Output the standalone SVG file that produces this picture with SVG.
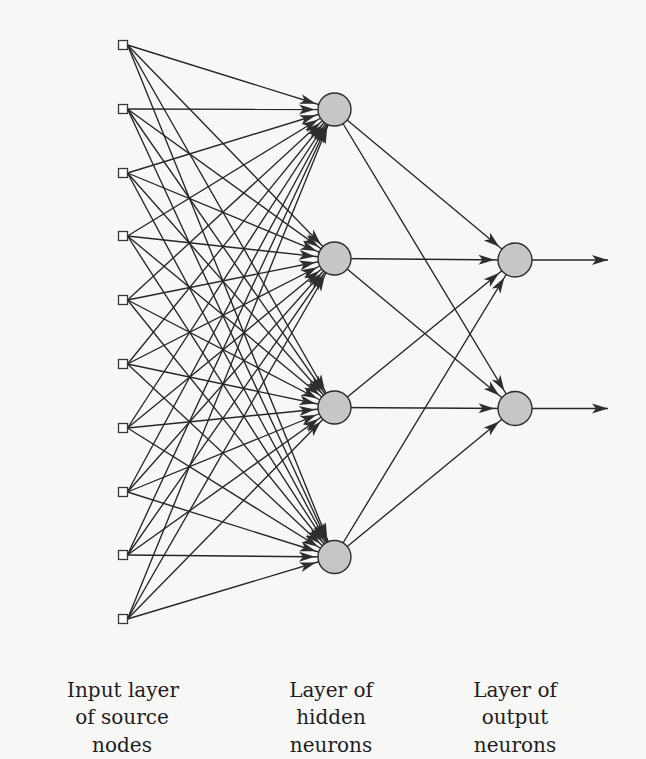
<svg xmlns="http://www.w3.org/2000/svg" width="646" height="759" viewBox="0 0 646 759">
<style>
.c{stroke:#262626;stroke-width:1.35;fill:none}
.ih{marker-end:url(#ah)}
.ho{marker-end:url(#ao)}
.out{marker-end:url(#ae)}
.in{fill:#fbfbfb;stroke:#3a3a3a;stroke-width:1.3}
.neu{fill:#c6c6c6;stroke:#2e2e2e;stroke-width:1.4}
</style>
<defs>
<marker id="ah" markerUnits="userSpaceOnUse" markerWidth="60" markerHeight="12" refX="35.5" refY="5" orient="auto" overflow="visible"><path d="M0,0 L16,5 L0,10 L4,5 Z" fill="#2e2e2e"/></marker>
<marker id="ao" markerUnits="userSpaceOnUse" markerWidth="60" markerHeight="12" refX="36.5" refY="5" orient="auto" overflow="visible"><path d="M0,0 L16,5 L0,10 L4,5 Z" fill="#2e2e2e"/></marker>
<marker id="ae" markerUnits="userSpaceOnUse" markerWidth="20" markerHeight="12" refX="16" refY="5" orient="auto" overflow="visible"><path d="M0,0 L16,5 L0,10 L4,5 Z" fill="#2e2e2e"/></marker>
</defs>
<rect width="646" height="759" fill="#f7f7f6"/>
<g id="connectors">
<line class="c ih" x1="127.5" y1="45" x2="334.5" y2="109.5"/>
<line class="c ih" x1="127.5" y1="45" x2="334.5" y2="258.5"/>
<line class="c ih" x1="127.5" y1="45" x2="334.5" y2="407.5"/>
<line class="c ih" x1="127.5" y1="45" x2="334.5" y2="557"/>
<line class="c ih" x1="127.5" y1="109" x2="334.5" y2="109.5"/>
<line class="c ih" x1="127.5" y1="109" x2="334.5" y2="258.5"/>
<line class="c ih" x1="127.5" y1="109" x2="334.5" y2="407.5"/>
<line class="c ih" x1="127.5" y1="109" x2="334.5" y2="557"/>
<line class="c ih" x1="127.5" y1="173" x2="334.5" y2="109.5"/>
<line class="c ih" x1="127.5" y1="173" x2="334.5" y2="258.5"/>
<line class="c ih" x1="127.5" y1="173" x2="334.5" y2="407.5"/>
<line class="c ih" x1="127.5" y1="173" x2="334.5" y2="557"/>
<line class="c ih" x1="127.5" y1="236" x2="334.5" y2="109.5"/>
<line class="c ih" x1="127.5" y1="236" x2="334.5" y2="258.5"/>
<line class="c ih" x1="127.5" y1="236" x2="334.5" y2="407.5"/>
<line class="c ih" x1="127.5" y1="236" x2="334.5" y2="557"/>
<line class="c ih" x1="127.5" y1="300" x2="334.5" y2="109.5"/>
<line class="c ih" x1="127.5" y1="300" x2="334.5" y2="258.5"/>
<line class="c ih" x1="127.5" y1="300" x2="334.5" y2="407.5"/>
<line class="c ih" x1="127.5" y1="300" x2="334.5" y2="557"/>
<line class="c ih" x1="127.5" y1="364" x2="334.5" y2="109.5"/>
<line class="c ih" x1="127.5" y1="364" x2="334.5" y2="258.5"/>
<line class="c ih" x1="127.5" y1="364" x2="334.5" y2="407.5"/>
<line class="c ih" x1="127.5" y1="364" x2="334.5" y2="557"/>
<line class="c ih" x1="127.5" y1="428" x2="334.5" y2="109.5"/>
<line class="c ih" x1="127.5" y1="428" x2="334.5" y2="258.5"/>
<line class="c ih" x1="127.5" y1="428" x2="334.5" y2="407.5"/>
<line class="c ih" x1="127.5" y1="428" x2="334.5" y2="557"/>
<line class="c ih" x1="127.5" y1="492" x2="334.5" y2="109.5"/>
<line class="c ih" x1="127.5" y1="492" x2="334.5" y2="258.5"/>
<line class="c ih" x1="127.5" y1="492" x2="334.5" y2="407.5"/>
<line class="c ih" x1="127.5" y1="492" x2="334.5" y2="557"/>
<line class="c ih" x1="127.5" y1="555" x2="334.5" y2="109.5"/>
<line class="c ih" x1="127.5" y1="555" x2="334.5" y2="258.5"/>
<line class="c ih" x1="127.5" y1="555" x2="334.5" y2="407.5"/>
<line class="c ih" x1="127.5" y1="555" x2="334.5" y2="557"/>
<line class="c ih" x1="127.5" y1="619" x2="334.5" y2="109.5"/>
<line class="c ih" x1="127.5" y1="619" x2="334.5" y2="258.5"/>
<line class="c ih" x1="127.5" y1="619" x2="334.5" y2="407.5"/>
<line class="c ih" x1="127.5" y1="619" x2="334.5" y2="557"/>
<line class="c ho" x1="334.5" y1="109.5" x2="515" y2="260"/>
<line class="c ho" x1="334.5" y1="109.5" x2="515" y2="408.5"/>
<line class="c ho" x1="334.5" y1="258.5" x2="515" y2="260"/>
<line class="c ho" x1="334.5" y1="258.5" x2="515" y2="408.5"/>
<line class="c ho" x1="334.5" y1="407.5" x2="515" y2="260"/>
<line class="c ho" x1="334.5" y1="407.5" x2="515" y2="408.5"/>
<line class="c ho" x1="334.5" y1="557" x2="515" y2="260"/>
<line class="c ho" x1="334.5" y1="557" x2="515" y2="408.5"/>
<line class="c out" x1="532" y1="260" x2="608" y2="260"/>
<line class="c out" x1="532" y1="408.5" x2="608" y2="408.5"/>
</g>
<g id="in1"><rect class="in" x="118.5" y="40.5" width="9" height="9"/></g>
<g id="in2"><rect class="in" x="118.5" y="104.5" width="9" height="9"/></g>
<g id="in3"><rect class="in" x="118.5" y="168.5" width="9" height="9"/></g>
<g id="in4"><rect class="in" x="118.5" y="231.5" width="9" height="9"/></g>
<g id="in5"><rect class="in" x="118.5" y="295.5" width="9" height="9"/></g>
<g id="in6"><rect class="in" x="118.5" y="359.5" width="9" height="9"/></g>
<g id="in7"><rect class="in" x="118.5" y="423.5" width="9" height="9"/></g>
<g id="in8"><rect class="in" x="118.5" y="487.5" width="9" height="9"/></g>
<g id="in9"><rect class="in" x="118.5" y="550.5" width="9" height="9"/></g>
<g id="in10"><rect class="in" x="118.5" y="614.5" width="9" height="9"/></g>
<g id="h1"><circle class="neu" cx="334.5" cy="109.5" r="16.5"/></g>
<g id="h2"><circle class="neu" cx="334.5" cy="258.5" r="16.5"/></g>
<g id="h3"><circle class="neu" cx="334.5" cy="407.5" r="16.5"/></g>
<g id="h4"><circle class="neu" cx="334.5" cy="557" r="16.5"/></g>
<g id="o1"><circle class="neu" cx="515" cy="260" r="17"/></g>
<g id="o2"><circle class="neu" cx="515" cy="408.5" r="17"/></g>
<g font-family="'DejaVu Serif', 'Liberation Serif', serif" font-size="20" fill="#1e1e1e" text-anchor="middle">
<g id="label-input"><text x="123" y="697">Input layer</text><text x="122" y="724">of source</text><text x="122" y="752">nodes</text></g>
<g id="label-hidden"><text x="331" y="697">Layer of</text><text x="331" y="724">hidden</text><text x="331" y="752">neurons</text></g>
<g id="label-output"><text x="515" y="697">Layer of</text><text x="515" y="724">output</text><text x="515" y="752">neurons</text></g>
</g>
</svg>
